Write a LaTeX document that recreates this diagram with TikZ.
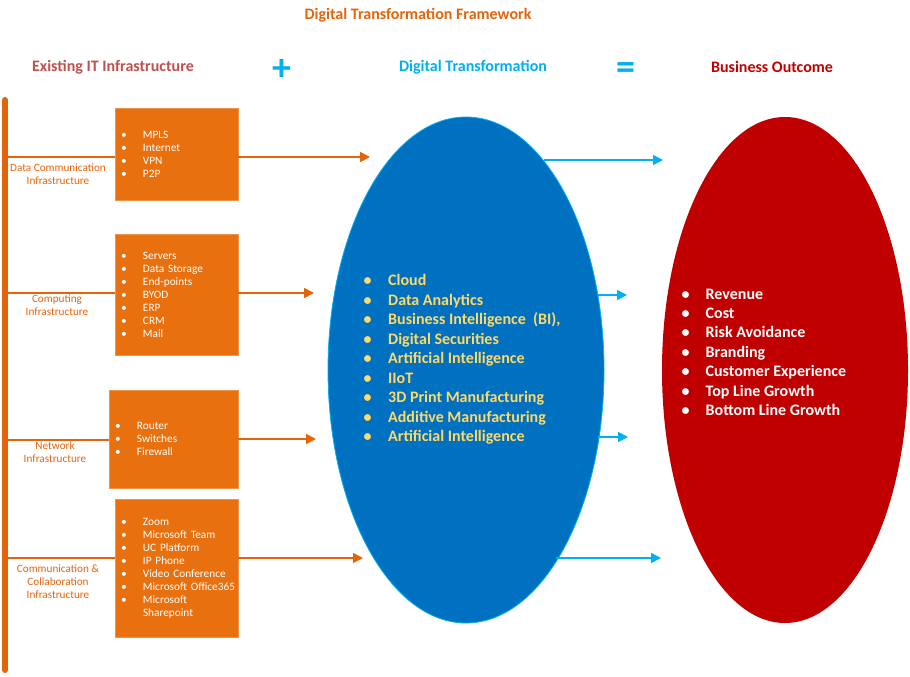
\documentclass[tikz,border=0pt]{standalone}
\usepackage{fontspec}
\setmainfont{Carlito}
\usetikzlibrary{shapes.geometric, arrows.meta, positioning}
\definecolor{boxorange}{RGB}{232,112,14}
\definecolor{lineorange}{RGB}{228,100,10}
\definecolor{headred}{RGB}{192,80,77}
\definecolor{dtblue}{RGB}{0,112,192}
\definecolor{dtcyan}{RGB}{0,176,240}
\definecolor{bored}{RGB}{192,0,0}
\definecolor{dtyellow}{RGB}{255,217,102}
\newcommand{\itm}[1]{\makebox[22pt][l]{\textbullet}\mbox{#1}}
\newcommand{\bigitm}[1]{\makebox[24.5pt][l]{\textbullet}\mbox{#1}}
\newcommand{\boitm}[1]{\makebox[24pt][l]{\textbullet}\mbox{#1}}

\begin{document}
\begin{tikzpicture}[x=1pt, y=-1pt,
    infobox/.style={rectangle, fill=boxorange, draw=boxorange!75!white, text=white,
        align=left, inner xsep=6pt, inner ysep=0pt, font=\fontsize{11.3}{13}\selectfont},
    infolabel/.style={anchor=north, align=center, text=lineorange, inner sep=0pt,
        font=\fontsize{11.2}{13}\selectfont},
    heading/.style={font=\bfseries\fontsize{16}{18}\selectfont},
    feed/.style={lineorange, line width=1.6pt},
    feedarrow/.style={lineorange, line width=1.6pt, -{Triangle[length=10pt,width=10pt]}},
    outarrow/.style={dtcyan, line width=1.6pt, -{Triangle[length=10pt,width=10pt]}},
    biglist/.style={anchor=north west, align=left, inner sep=0pt,
        font=\bfseries\fontsize{16}{19.45}\selectfont}]
    \useasboundingbox (0,0) rectangle (910,677);

    % headings
    \node[heading, text=lineorange] (title) at (418,15) {Digital Transformation Framework};
    \node[heading, text=headred] (existing) at (113,67) {Existing IT Infrastructure};
    \node[text=dtcyan, font=\bfseries\fontsize{38}{38}\selectfont] (plus) at (282,70) {+};
    \node[heading, text=dtcyan] (digital) at (473,67) {Digital Transformation};
    \node[text=dtcyan, font=\bfseries\fontsize{38}{38}\selectfont] (equals) at (626,71) {=};
    \node[heading, text=bored] (outcome) at (772,67) {Business Outcome};

    % left bar
    \coordinate (bartop) at (5,100);
    \coordinate (barbot) at (5,670);
    \draw[lineorange, line width=6pt, line cap=round] (bartop) -- (barbot);

    % infrastructure boxes
    \node[infobox, text width=111pt, minimum height=92pt] (datacom) at (176.5,154)
        {\itm{MPLS}\\ \itm{Internet}\\ \itm{VPN}\\ \itm{P2P}};
    \node[infobox, text width=111pt, minimum height=121pt] (computing) at (176.5,294.5)
        {\itm{Servers}\\ \itm{Data Storage}\\ \itm{End-points}\\ \itm{BYOD}\\ \itm{ERP}\\ \itm{CRM}\\ \itm{Mail}};
    \node[infobox, text width=117pt, minimum height=98pt] (network) at (173.5,439)
        {\itm{Router}\\ \itm{Switches}\\ \itm{Firewall}};
    \node[infobox, text width=111pt, minimum height=138pt] (collab) at (176.5,568)
        {\itm{Zoom}\\ \itm{Microsoft Team}\\ \itm{UC Platform}\\ \itm{IP Phone}\\ \itm{Video Conference}\\
         \itm{Microsoft Office365}\\ \itm{Microsoft}\\ \hspace*{22pt}Sharepoint};

    \coordinate (c1) at (5,157);
    \coordinate (c2) at (5,293);
    \coordinate (c3) at (5,440);
    \coordinate (c4) at (5,558);
    \draw[feed] (c1) -- (c1 -| datacom.west);
    \draw[feed] (c2) -- (c2 -| computing.west);
    \draw[feed] (c3) -- (c3 -| network.west);
    \draw[feed] (c4) -- (c4 -| collab.west);
    \node[infolabel] (l1) at (58,163.5) {Data Communication\\Infrastructure};
    \node[infolabel] (l2) at (57,295) {Computing\\Infrastructure};
    \node[infolabel] (l3) at (55,442) {Network\\Infrastructure};
    \node[infolabel] (l4) at (58,565) {Communication \&\\Collaboration\\Infrastructure};

    % ellipses
    \node[ellipse, fill=dtblue, draw=dtcyan, line width=0.8pt, minimum width=276pt,
        minimum height=506pt, inner sep=0pt] (dt) at (466,370) {};
    \node[ellipse, fill=bored, minimum width=246pt, minimum height=506pt,
        inner sep=0pt] (bo) at (785,370) {};

    \node[biglist, text=dtyellow] (dtlist) at (363.5,274.5)
        {\bigitm{Cloud}\\ \bigitm{Data Analytics}\\ \bigitm{Business Intelligence\ \ (BI),}\\
         \bigitm{Digital Securities}\\ \bigitm{Artificial Intelligence}\\ \bigitm{IIoT}\\
         \bigitm{3D Print Manufacturing}\\ \bigitm{Additive Manufacturing}\\ \bigitm{Artificial Intelligence}};
    \node[biglist, text=white] (bolist) at (681.5,288.5)
        {\boitm{Revenue}\\ \boitm{Cost}\\ \boitm{Risk Avoidance}\\ \boitm{Branding}\\
         \boitm{Customer Experience}\\ \boitm{Top Line Growth}\\ \boitm{Bottom Line Growth}};

    % arrows into digital transformation
    \coordinate (t1) at (370,157);
    \coordinate (t2) at (314,293);
    \coordinate (t3) at (316,439);
    \coordinate (t4) at (363,558);
    \draw[feedarrow] (c1 -| datacom.east) -- (t1);
    \draw[feedarrow] (c2 -| computing.east) -- (t2);
    \draw[feedarrow] (network.east |- t3) -- (t3);
    \draw[feedarrow] (c4 -| collab.east) -- (t4);

    % arrows into business outcome
    \coordinate (s1) at (544,160);
    \coordinate (s2) at (598,295);
    \coordinate (s3) at (598,437);
    \coordinate (s4) at (556,558);
    \coordinate (e1) at (663,160);
    \coordinate (e2) at (627,295);
    \coordinate (e3) at (628,437);
    \coordinate (e4) at (661,558);
    \draw[outarrow] (s1) -- (e1);
    \draw[outarrow] (s2) -- (e2);
    \draw[outarrow] (s3) -- (e3);
    \draw[outarrow] (s4) -- (e4);
\end{tikzpicture}
\end{document}
